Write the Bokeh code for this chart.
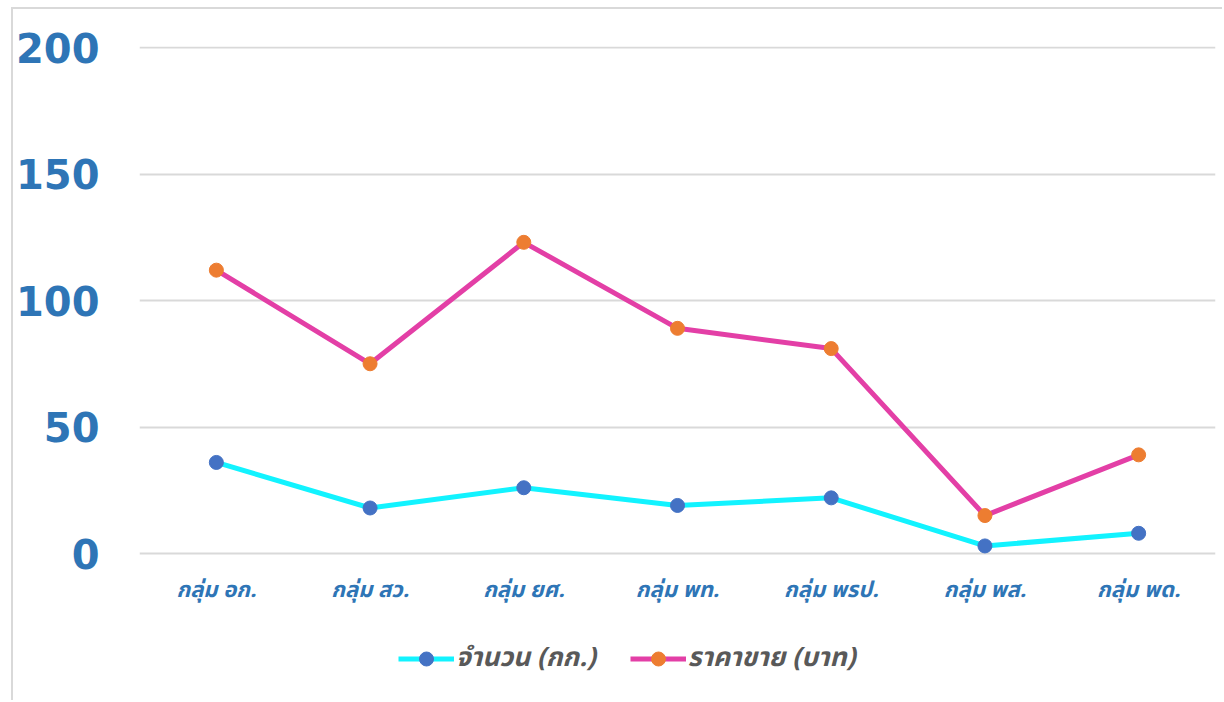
from bokeh.plotting import figure
from bokeh.models import Legend, LegendItem, FactorRange, Range1d, ColumnDataSource
from bokeh.core.properties import value
from bokeh.embed import file_html
from bokeh.resources import INLINE

categories = ["กลุ่ม อก.", "กลุ่ม สว.", "กลุ่ม ยศ.", "กลุ่ม พท.", "กลุ่ม พรป.", "กลุ่ม พส.", "กลุ่ม พด."]
qty_kg = [36, 18, 26, 19, 22, 3, 8]
price_baht = [112, 75, 123, 89, 81, 15, 39]
series_names = ["จำนวน (กก.)", "ราคาขาย (บาท)"]
y_ticks = [0, 50, 100, 150, 200]

src = ColumnDataSource(dict(cat=categories, qty=qty_kg, price=price_baht))
lab_src = ColumnDataSource(dict(cat=categories, y=[-14.6] * len(categories)))

p = figure(x_range=FactorRange(*categories), y_range=Range1d(-57.3, 200.4),
           width=1211, height=693, output_backend="svg", toolbar_location=None,
           min_border_left=119, min_border_right=9, min_border_top=37, min_border_bottom=4)
p.styles = {"margin-left": "11px", "margin-top": "7px",
            "border-left": "2px solid #d9d9d9", "border-top": "2px solid #d9d9d9"}
p.outline_line_color = None
p.background_fill_color = "white"

l1 = p.line("cat", "qty", source=src, line_color="#12F3FF", line_width=5)
s1 = p.scatter("cat", "qty", source=src, size=14, fill_color="#4472C4", line_color="#4472C4")
l2 = p.line("cat", "price", source=src, line_color="#E33FA6", line_width=5)
s2 = p.scatter("cat", "price", source=src, size=14, fill_color="#ED7D31", line_color="#ED7D31")

# category labels drawn under the 0 line
p.text("cat", "y", text="cat", source=lab_src, text_align="center", text_baseline="middle",
       text_font=value("Noto Sans Thai, Noto Sans"), text_font_style="bold italic",
       text_font_size="22px", text_color="#2E75B6")

p.xgrid.grid_line_color = None
p.ygrid.grid_line_color = "#d9d9d9"
p.ygrid.grid_line_width = 2
p.yaxis.ticker = y_ticks
p.yaxis.axis_line_color = None
p.yaxis.major_tick_line_color = None
p.yaxis.minor_tick_line_color = None
p.yaxis.major_label_text_font = "DejaVu Sans"
p.yaxis.major_label_text_font_style = "bold"
p.yaxis.major_label_text_font_size = "40px"
p.yaxis.major_label_text_color = "#2E75B6"
p.yaxis.major_label_standoff = 34
p.xaxis.visible = False
p.x_range.range_padding = 0
p.x_range.group_padding = 0

legend = Legend(items=[LegendItem(label=series_names[0], renderers=[l1, s1]),
                       LegendItem(label=series_names[1], renderers=[l2, s2])],
                orientation="horizontal", location=(259, 20),
                label_text_font="Noto Sans Thai, Noto Sans", label_text_font_style="bold italic",
                label_text_font_size="26.5px", label_text_color="#595959",
                glyph_width=56, glyph_height=35, spacing=34, label_standoff=2,
                border_line_color=None, background_fill_alpha=0, padding=5, margin=0)
p.add_layout(legend, "center")

open("out.html", "w").write(file_html(p, INLINE))
